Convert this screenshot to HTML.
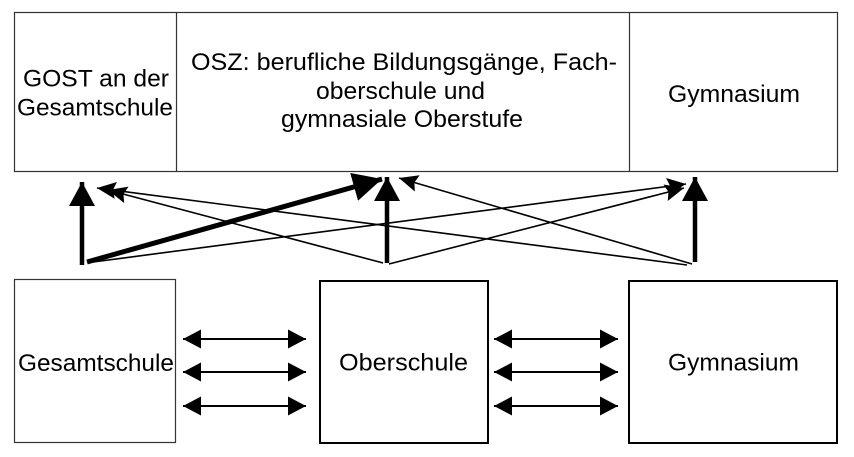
<!DOCTYPE html>
<html>
<head>
<meta charset="utf-8">
<style>
  html, body { margin: 0; padding: 0; background: #fff; }
  body { width: 854px; height: 457px; overflow: hidden; }
  svg { display: block; }
  text { font-family: "Liberation Sans", Arial, sans-serif; fill: #000; }
</style>
</head>
<body>
<svg width="854" height="457" viewBox="0 0 854 457" xmlns="http://www.w3.org/2000/svg">
  <defs>
    <marker id="thin" markerUnits="userSpaceOnUse" markerWidth="22" markerHeight="18" refX="19" refY="8.5" orient="auto">
      <path d="M0,0 L19,8.5 L0,17 L3,8.5 z" fill="#000"/>
    </marker>
    <marker id="thick" markerUnits="userSpaceOnUse" markerWidth="28" markerHeight="28" refX="24" refY="13" orient="auto">
      <path d="M0,0 L24,13 L0,26 z" fill="#000"/>
    </marker>
    <marker id="big" markerUnits="userSpaceOnUse" markerWidth="32" markerHeight="32" refX="29" refY="14.5" orient="auto">
      <path d="M0,0 L29,14.5 L0,29 z" fill="#000"/>
    </marker>
    <marker id="dbl" markerUnits="userSpaceOnUse" markerWidth="20" markerHeight="20" refX="18" refY="9.5" orient="auto-start-reverse">
      <path d="M0,0 L18,9.5 L0,19 z" fill="#000"/>
    </marker>
  </defs>

  <!-- Top combined box -->
  <rect x="14.5" y="12.5" width="823" height="159" fill="none" stroke="#333" stroke-width="1.2"/>
  <line x1="176.5" y1="12" x2="176.5" y2="172" stroke="#333" stroke-width="1.2"/>
  <line x1="629.5" y1="12" x2="629.5" y2="172" stroke="#333" stroke-width="1.2"/>

  <text x="23" y="86.5" font-size="24" textLength="146" lengthAdjust="spacingAndGlyphs">GOST an der</text>
  <text x="17" y="115.5" font-size="24" textLength="156" lengthAdjust="spacingAndGlyphs">Gesamtschule</text>

  <text x="191" y="70" font-size="24" textLength="426" lengthAdjust="spacingAndGlyphs">OSZ: berufliche Bildungsgänge, Fach-</text>
  <text x="316" y="99" font-size="24" textLength="169" lengthAdjust="spacingAndGlyphs">oberschule und</text>
  <text x="281" y="127" font-size="24" textLength="242" lengthAdjust="spacingAndGlyphs">gymnasiale Oberstufe</text>

  <text x="668" y="102" font-size="24" textLength="132" lengthAdjust="spacingAndGlyphs">Gymnasium</text>

  <!-- Upward connectors: thin -->
  <line x1="93" y1="262" x2="686" y2="184" stroke="#000" stroke-width="1.6" marker-end="url(#thin)"/>
  <line x1="383" y1="263" x2="108" y2="190" stroke="#000" stroke-width="1.6" marker-end="url(#thin)"/>
  <line x1="389" y1="264" x2="684" y2="188" stroke="#000" stroke-width="1.6" marker-end="url(#thin)"/>
  <line x1="687" y1="265" x2="97" y2="188" stroke="#000" stroke-width="1.6" marker-end="url(#thin)"/>
  <line x1="692" y1="264" x2="399" y2="178" stroke="#000" stroke-width="1.6" marker-end="url(#thin)"/>

  <!-- thick verticals -->
  <line x1="82" y1="265" x2="82" y2="182" stroke="#000" stroke-width="4.5" marker-end="url(#thick)"/>
  <line x1="387" y1="263" x2="387" y2="177" stroke="#000" stroke-width="4.5" marker-end="url(#thick)"/>
  <line x1="695" y1="262" x2="695" y2="177" stroke="#000" stroke-width="4.5" marker-end="url(#thick)"/>

  <!-- thick diagonal -->
  <line x1="87" y1="262" x2="382" y2="179" stroke="#000" stroke-width="5" marker-end="url(#big)"/>

  <!-- Lower boxes -->
  <rect x="14.5" y="279.5" width="161" height="163" fill="none" stroke="#333" stroke-width="1.2"/>
  <rect x="320" y="281" width="168" height="162" fill="none" stroke="#000" stroke-width="2"/>
  <rect x="629" y="281" width="208" height="162" fill="none" stroke="#000" stroke-width="2"/>

  <text x="18" y="371" font-size="24.5" textLength="156" lengthAdjust="spacingAndGlyphs">Gesamtschule</text>
  <text x="339" y="370.5" font-size="24.5" textLength="129" lengthAdjust="spacingAndGlyphs">Oberschule</text>
  <text x="668" y="370.5" font-size="24.5" textLength="131" lengthAdjust="spacingAndGlyphs">Gymnasium</text>

  <!-- Double-headed arrows -->
  <g stroke="#000" stroke-width="2">
    <line x1="183" y1="339" x2="306" y2="339" marker-start="url(#dbl)" marker-end="url(#dbl)"/>
    <line x1="183" y1="372" x2="306" y2="372" marker-start="url(#dbl)" marker-end="url(#dbl)"/>
    <line x1="183" y1="406" x2="306" y2="406" marker-start="url(#dbl)" marker-end="url(#dbl)"/>
    <line x1="494" y1="339" x2="618" y2="339" marker-start="url(#dbl)" marker-end="url(#dbl)"/>
    <line x1="494" y1="372" x2="618" y2="372" marker-start="url(#dbl)" marker-end="url(#dbl)"/>
    <line x1="494" y1="406" x2="618" y2="406" marker-start="url(#dbl)" marker-end="url(#dbl)"/>
  </g>
</svg>
</body>
</html>
